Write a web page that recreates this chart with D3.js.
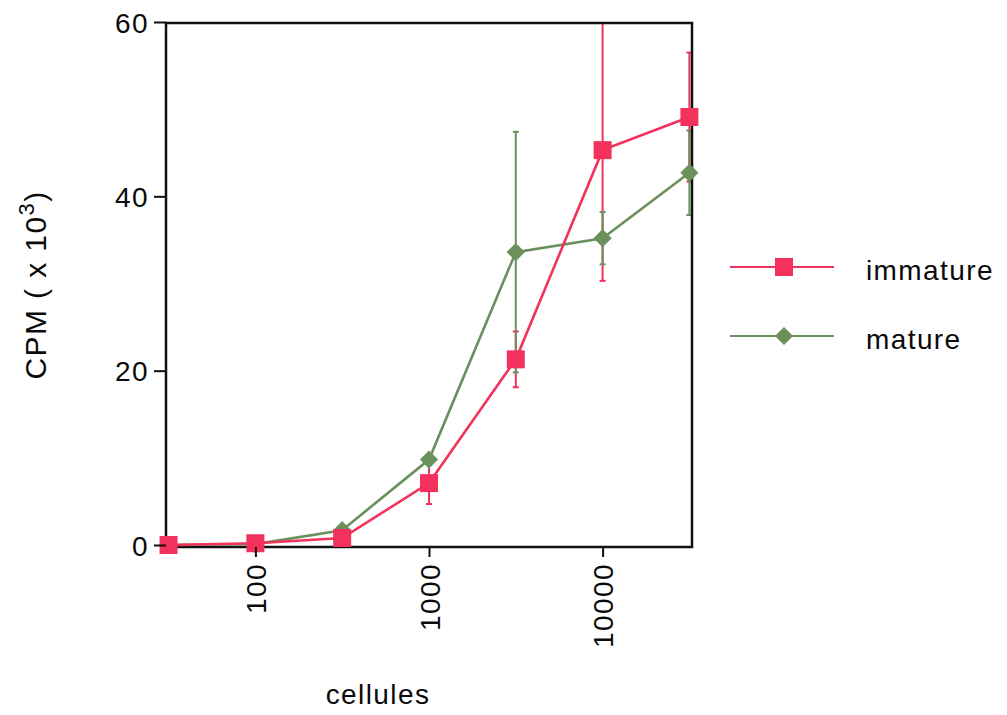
<!DOCTYPE html>
<html>
<head>
<meta charset="utf-8">
<script src="https://cdn.jsdelivr.net/npm/d3@7"></script>
<style>
  body { margin: 0; background: #fff; }
  text { font-family: "Liberation Sans", Arial, sans-serif; fill: #0a0a0a; letter-spacing: 1.4px; }
</style>
</head>
<body>
<div id="vis"></div>
<script>
// cells per well (x) and CPM x10^3 (y)
const cells = [31.6, 100, 316, 1000, 3162, 10000, 31623];
const immature = [0, 0.2, 0.8, 7.1, 21.3, 45.3, 49.1];
const immatureErr = [0, 0, 0, 2.4, 3.2, 15, 7.4];
const mature = [0, 0.1, 1.7, 9.8, 33.6, 35.2, 42.7];
const matureErr = [0, 0, 0, 0.6, 13.8, 3.0, 4.85];
const xTicks = [100, 1000, 10000];
const yTicks = [0, 20, 40, 60];

const series = [
    { name: "immature", values: immature, err: immatureErr, color: "#f2325c", rot: 0 },
    { name: "mature", values: mature, err: matureErr, color: "#6a905c", rot: 45 }
];

const svg = d3.select("#vis")
    .append("svg")
    .attr("width", 1007)
    .attr("height", 715);

const x = d3.scaleLog()
    .domain([10 ** 1.485, 10 ** 4.515])
    .range([166, 692]);

const y = d3.scaleLinear()
    .domain([0, 60])
    .range([545, 22]);

const marker = d3.symbol().type(d3.symbolSquare);
function markerSize(s) { return s.rot ? 165 : 324; }

// clip for the data area
svg.append("clipPath").attr("id", "plot")
    .append("rect")
    .attr("x", 140).attr("y", 23)
    .attr("width", 600).attr("height", 560);

const g = svg.append("g").attr("clip-path", "url(#plot)");

// error bars
series.forEach(function (s) {
    const eb = g.append("g").attr("stroke", s.color).attr("stroke-width", 2);
    cells.forEach(function (c, i) {
        if (!s.err[i]) return;
        const cx = x(c);
        const lo = y(s.values[i] - s.err[i]);
        const hi = y(s.values[i] + s.err[i]);
        eb.append("line").attr("x1", cx).attr("x2", cx).attr("y1", lo).attr("y2", hi);
        eb.append("line").attr("x1", cx - 3).attr("x2", cx + 3).attr("y1", lo).attr("y2", lo);
        eb.append("line").attr("x1", cx - 3).attr("x2", cx + 3).attr("y1", hi).attr("y2", hi);
    });
});

// frame
svg.append("rect")
    .attr("x", 166).attr("y", 23)
    .attr("width", 526).attr("height", 524)
    .attr("fill", "none")
    .attr("stroke", "#111")
    .attr("stroke-width", 2.5);

// lines and markers, mature drawn first
const line = d3.line()
    .x(function (d) { return x(d[0]); })
    .y(function (d) { return y(d[1]); });

series.slice().reverse().forEach(function (s) {
    const pts = cells.map(function (c, i) { return [c, s.values[i]]; });
    svg.append("path")
        .datum(pts)
        .attr("d", line)
        .attr("fill", "none")
        .attr("stroke", s.color)
        .attr("stroke-width", 2.6);
    svg.selectAll(null)
        .data(pts)
        .enter()
        .append("path")
        .attr("transform", function (d) { return "translate(" + x(d[0]) + "," + y(d[1]) + ") rotate(" + s.rot + ")"; })
        .attr("d", marker.size(markerSize(s)))
        .attr("fill", s.color);
});

// y axis
const yAxis = svg.append("g")
    .attr("transform", "translate(166,0)")
    .call(d3.axisLeft(y).tickValues(yTicks).tickSize(12).tickPadding(5));
yAxis.select(".domain").remove();
yAxis.selectAll("line").attr("stroke", "#111").attr("stroke-width", 2);
yAxis.selectAll("text").style("font-size", "28px").attr("dy", "0.36em");

// x axis
const xAxis = svg.append("g")
    .attr("transform", "translate(0,547)")
    .call(d3.axisBottom(x).tickValues(xTicks).tickFormat(d3.format("d")).tickSize(10));
xAxis.select(".domain").remove();
xAxis.selectAll("line").attr("stroke", "#111").attr("stroke-width", 2);
xAxis.selectAll("text")
    .style("font-size", "28px")
    .attr("text-anchor", "end")
    .attr("transform", "rotate(-90)")
    .attr("x", -16)
    .attr("y", 0)
    .attr("dy", "0.36em");

// axis titles
svg.append("text")
    .attr("x", 378).attr("y", 704)
    .attr("text-anchor", "middle")
    .style("font-size", "28px")
    .text("cellules");

const yt = svg.append("text")
    .attr("transform", "translate(46,285) rotate(-90)")
    .attr("text-anchor", "middle")
    .style("font-size", "30px");
yt.append("tspan").text("CPM ( x 10");
yt.append("tspan").attr("dy", "-12").style("font-size", "22px").text("3");
yt.append("tspan").attr("dy", "12").text(")");

// legend
const legend = svg.append("g");
series.forEach(function (s, i) {
    const ly = 267 + i * 69;
    legend.append("line")
        .attr("x1", 730).attr("x2", 834)
        .attr("y1", ly).attr("y2", ly)
        .attr("stroke", s.color).attr("stroke-width", 2);
    legend.append("path")
        .attr("transform", "translate(784," + ly + ") rotate(" + s.rot + ")")
        .attr("d", marker.size(markerSize(s)))
        .attr("fill", s.color);
    legend.append("text")
        .attr("x", 866).attr("y", ly + 13)
        .style("font-size", "28px")
        .text(s.name);
});
</script>
</body>
</html>
